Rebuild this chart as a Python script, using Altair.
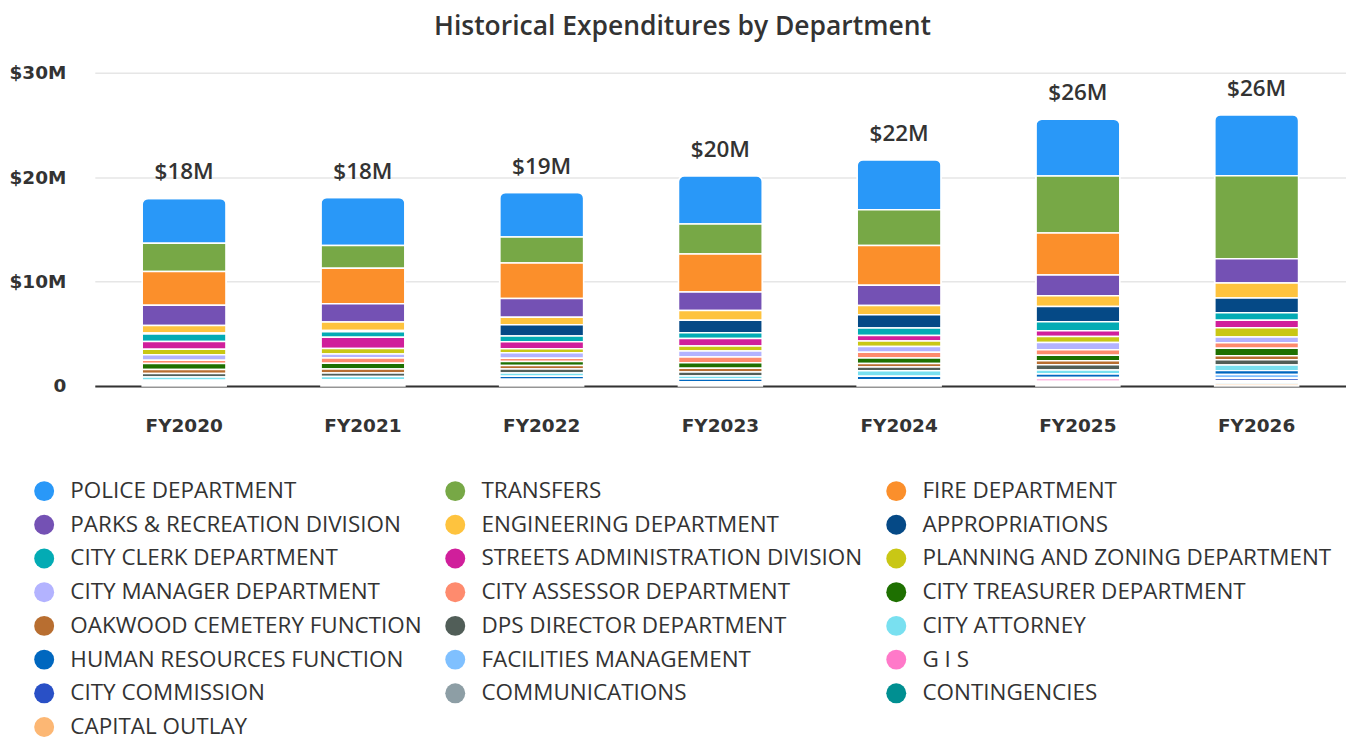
import altair as alt
import pandas as pd

years = ["FY2020", "FY2021", "FY2022", "FY2023", "FY2024", "FY2025", "FY2026"]

depts = [
    "POLICE DEPARTMENT", "TRANSFERS", "FIRE DEPARTMENT",
    "PARKS & RECREATION DIVISION", "ENGINEERING DEPARTMENT", "APPROPRIATIONS",
    "CITY CLERK DEPARTMENT", "STREETS ADMINISTRATION DIVISION", "PLANNING AND ZONING DEPARTMENT",
    "CITY MANAGER DEPARTMENT", "CITY ASSESSOR DEPARTMENT", "CITY TREASURER DEPARTMENT",
    "OAKWOOD CEMETERY FUNCTION", "DPS DIRECTOR DEPARTMENT", "CITY ATTORNEY",
    "HUMAN RESOURCES FUNCTION", "FACILITIES MANAGEMENT", "G I S",
    "CITY COMMISSION", "COMMUNICATIONS", "CONTINGENCIES",
    "CAPITAL OUTLAY",
]

colors = [
    "#2998f8", "#77a846", "#fb8f2b",
    "#7451b4", "#fec33e", "#054986",
    "#03abb4", "#d01f9b", "#c9c715",
    "#b3b3ff", "#fe8b6e", "#1e7001",
    "#b86e30", "#515e58", "#79e0f0",
    "#0067bf", "#7fc0ff", "#ff79c9",
    "#2950c6", "#8d9ea5", "#008f91",
    "#fcb774",
]

# values in $ millions, in the same order as depts
fy2020 = [4.29, 2.70, 3.24, 1.95, 0.70, 0.10, 0.73, 0.73, 0.52, 0.53, 0.32, 0.57, 0.38, 0.34, 0.31, 0.10, 0.10, 0.00, 0.10, 0.10, 0.05, 0.10]
fy2021 = [4.60, 2.17, 3.40, 1.75, 0.80, 0.12, 0.54, 1.08, 0.52, 0.38, 0.51, 0.54, 0.38, 0.34, 0.31, 0.12, 0.10, 0.00, 0.12, 0.10, 0.05, 0.11]
fy2022 = [4.26, 2.48, 3.41, 1.78, 0.73, 1.08, 0.54, 0.67, 0.38, 0.53, 0.32, 0.38, 0.34, 0.38, 0.32, 0.27, 0.12, 0.03, 0.15, 0.12, 0.08, 0.15]
fy2023 = [4.61, 2.87, 3.63, 1.79, 0.93, 1.20, 0.54, 0.73, 0.48, 0.57, 0.54, 0.54, 0.35, 0.38, 0.29, 0.27, 0.10, 0.05, 0.10, 0.08, 0.02, 0.05]
fy2024 = [4.78, 3.44, 3.79, 1.94, 0.89, 1.28, 0.70, 0.54, 0.53, 0.54, 0.54, 0.53, 0.35, 0.35, 0.53, 0.33, 0.12, 0.10, 0.12, 0.10, 0.06, 0.10]
fy2025 = [5.45, 5.45, 4.02, 1.98, 1.05, 1.46, 0.86, 0.54, 0.57, 0.70, 0.52, 0.53, 0.38, 0.52, 0.38, 0.34, 0.10, 0.25, 0.15, 0.12, 0.08, 0.10]
fy2026 = [5.85, 7.93, 0.00, 2.33, 1.43, 1.43, 0.70, 0.73, 0.89, 0.54, 0.53, 0.71, 0.38, 0.51, 0.54, 0.38, 0.32, 0.05, 0.22, 0.15, 0.15, 0.20]

series = [fy2020, fy2021, fy2022, fy2023, fy2024, fy2025, fy2026]

rows = []
n = len(depts)
for y, vals in zip(years, series):
    for i, (d, v) in enumerate(zip(depts, vals)):
        rows.append({"year": y, "dept": d, "value": v, "stack_idx": n - 1 - i})
df = pd.DataFrame(rows)

FONT = "Open Sans"
AXFONT = "DejaVu Sans"
TXT = "#333333"

x_enc = alt.X(
    "year:N", sort=years,
    scale=alt.Scale(paddingInner=0.53, paddingOuter=0.265),
    axis=alt.Axis(title=None, labelAngle=0, labelFont=AXFONT, labelFontWeight="bold",
                  labelFontSize=18.5, labelColor=TXT, labelPadding=31, ticks=False,
                  domainColor="#333333", domainWidth=2, grid=False),
)

bars = alt.Chart(df).mark_bar(
    stroke="white", strokeWidth=1.5, cornerRadiusTopLeft=6, cornerRadiusTopRight=6
).encode(
    x=x_enc,
    y=alt.Y(
        "value:Q", stack="zero",
        scale=alt.Scale(domain=[0, 30], nice=False),
        axis=alt.Axis(
            title=None, values=[0, 10, 20, 30],
            labelExpr="datum.value == 0 ? '0' : '$' + datum.value + 'M'",
            domain=False, ticks=False, labelPadding=29,
            gridColor="#e6e6e6", gridWidth=1.5,
            labelFont=AXFONT, labelFontSize=18.5, labelFontWeight="bold", labelColor=TXT,
        ),
    ),
    color=alt.Color(
        "dept:N",
        scale=alt.Scale(domain=depts, range=colors),
        legend=alt.Legend(
            title=None, orient="none", legendX=-62, legendY=408, columns=3,
            direction="horizontal",
            symbolType="circle", symbolSize=400, symbolStrokeWidth=0,
            labelFont=FONT, labelFontSize=22.5, labelColor=TXT, labelLimit=700,
            rowPadding=10.8, columnPadding=22, labelOffset=15, padding=0,
        ),
    ),
    order=alt.Order("stack_idx:Q", sort="ascending"),
)

labels = alt.Chart(df).transform_aggregate(
    total="sum(value)", groupby=["year"]
).transform_calculate(
    label="'$' + round(datum.total) + 'M'"
).mark_text(
    dy=-14, baseline="bottom", fontSize=22.5, fontWeight=600, font=FONT, color=TXT
).encode(
    x=alt.X("year:N", sort=years),
    y=alt.Y("total:Q"),
    text="label:N",
)

chart = alt.layer(bars, labels).properties(
    width=1254, height=314,
    title=alt.TitleParams(
        "Historical Expenditures by Department", fontSize=26.5, font=FONT,
        fontWeight=600, color=TXT, anchor="middle", dx=-38, dy=-19,
    ),
    autosize=alt.AutoSizeParams(type="none"),
    padding={"left": 87, "top": 64, "right": 0, "bottom": 356},
).configure_view(stroke=None)

chart.save("out.html", embed_options={"renderer": "svg", "actions": False})
